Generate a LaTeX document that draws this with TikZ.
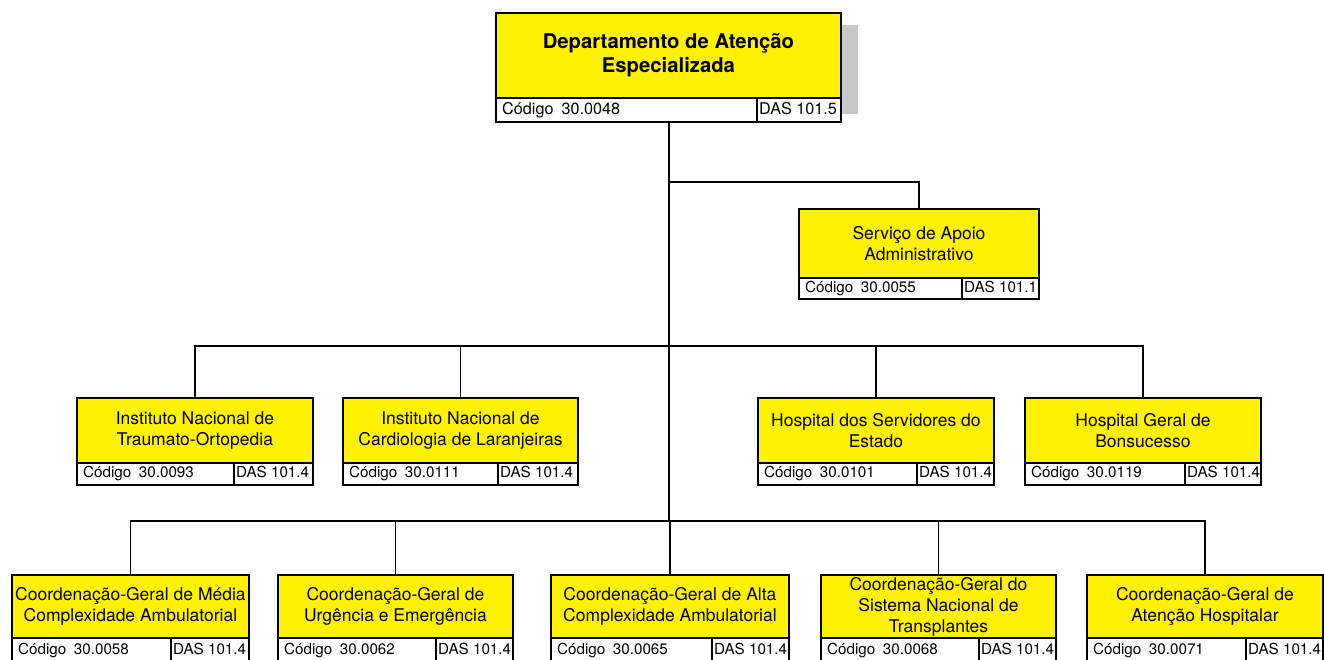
\documentclass[tikz,border=0pt]{standalone}
\usepackage{fontspec}
\setmainfont{TeX Gyre Heros}
\definecolor{yel}{RGB}{255,242,0}
\definecolor{shadowgray}{RGB}{200,200,202}
\tikzset{
  ybox/.style={draw, line width=1.9pt, fill=yel, inner sep=0pt, align=center, anchor=north west,
    font=\fontsize{17.5}{21}\selectfont},
  tbox/.style={ybox, font=\fontsize{20.3}{23.5}\selectfont\bfseries},
  fbox/.style={draw, line width=1.9pt, fill=white, inner sep=0pt, anchor=north west},
  ftext/.style={anchor=west, inner sep=0pt, text height=11pt, text depth=3.2pt,
    font=\fontsize{15.2}{17}\selectfont},
  ftop/.style={font=\fontsize{16.2}{18}\selectfont, yshift=-1pt},
  conn/.style={line width=1.9pt}
}
\newcommand\obox[9]{% #1 style #2 name #3 L #4 T #5 R #6 Yb #7 Fb #8 D #9 title
  \node[#1, minimum width={#5-#3}, minimum height={#6-#4}] (#2) at (#3,#4) {#9};
  \def\curname{#2}\def\curL{#3}\def\curR{#5}\def\curYb{#6}\def\curFb{#7}\def\curD{#8}}
\newcommand\ofoot[3][]{%
  \node[fbox, minimum width={\curD-\curL}, minimum height={\curFb-\curYb}] (\curname-c) at (\curL,\curYb) {};
  \node[fbox, minimum width={\curR-\curD}, minimum height={\curFb-\curYb}] (\curname-d) at (\curD,\curYb) {};
  \node[ftext,#1] (\curname-ct) at ([xshift=7pt]\curname-c.west) {Código\hspace{0.5em}#2};
  \node[ftext,#1] (\curname-dt) at ([xshift=3pt]\curname-d.west) {DAS #3};}
\begin{document}
\begin{tikzpicture}[x=1pt,y=-1pt]
\useasboundingbox (0,0) rectangle (1324,659);
% shadow
\fill[shadowgray] (830,25) rectangle (858,114);
% top
\obox{tbox}{top}{495}{12}{840}{97}{121}{756}{Departamento de Atenção\\Especializada}
\ofoot[ftop]{30.0048}{101.5}
% servico
\obox{ybox}{serv}{798}{208}{1038}{277}{298}{961}{Serviço de Apoio\\Administrativo}
\ofoot{30.0055}{101.1}
% row 2
\obox{ybox}{ia}{76}{397}{312}{462}{484}{233}{Instituto Nacional de\\Traumato-Ortopedia}
\ofoot{30.0093}{101.4}
\obox{ybox}{ib}{342}{397}{577}{462}{484}{497}{Instituto Nacional de\\Cardiologia de Laranjeiras}
\ofoot{30.0111}{101.4}
\obox{ybox}{ic}{757}{397}{993}{462}{484}{916}{Hospital dos Servidores do\\Estado}
\ofoot{30.0101}{101.4}
\obox{ybox}{id}{1024}{397}{1260}{462}{484}{1184}{Hospital Geral de\\Bonsucesso}
\ofoot{30.0119}{101.4}
% row 3
\obox{ybox}{ca}{11}{574}{248}{637}{662}{170}{Coordenação-Geral de Média\\Complexidade Ambulatorial}
\ofoot{30.0058}{101.4}
\obox{ybox}{cb}{277}{574}{512}{637}{662}{435}{Coordenação-Geral de\\Urgência e Emergência}
\ofoot{30.0062}{101.4}
\obox{ybox}{cc}{550}{574}{788}{637}{662}{711}{Coordenação-Geral de Alta\\Complexidade Ambulatorial}
\ofoot{30.0065}{101.4}
\obox{ybox}{cd}{820}{574}{1055}{637}{662}{978}{Coordenação-Geral do\\Sistema Nacional de\\Transplantes}
\ofoot{30.0068}{101.4}
\obox{ybox}{ce}{1086}{574}{1322}{637}{662}{1245}{Coordenação-Geral de\\Atenção Hospitalar}
\ofoot{30.0071}{101.4}
% connectors
\coordinate (j1) at (669,182);
\coordinate (j2) at (669,346);
\coordinate (j3) at (669,521);
\draw[conn] (top-c.south -| j3) -- (j3);
\draw[conn] (j1) -| (serv.north);
\draw[conn] (ia.north) -- (ia.north |- j2) -- (id.north |- j2) -- (id.north);
\draw[conn] (ib.north) -- (ib.north |- j2);
\draw[conn] (ic.north) -- (ic.north |- j2);
\draw[conn] (ca.north) -- (ca.north |- j3) -- (ce.north |- j3) -- (ce.north);
\draw[conn] (cb.north) -- (cb.north |- j3);
\draw[conn] (cc.north) -- (cc.north |- j3);
\draw[conn] (cd.north) -- (cd.north |- j3);
\end{tikzpicture}
\end{document}
